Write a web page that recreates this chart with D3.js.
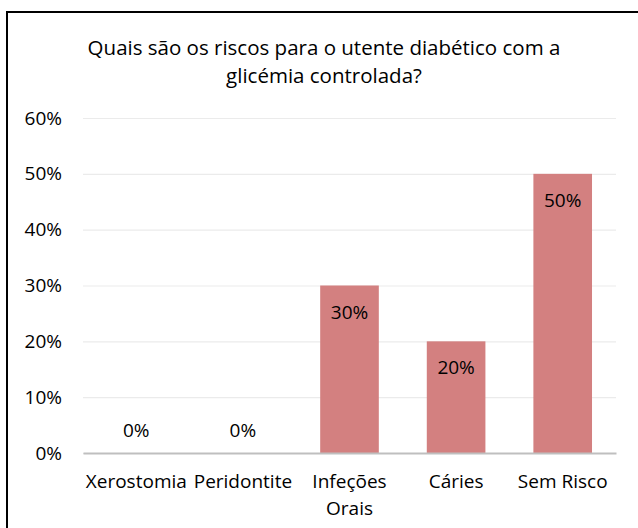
<!DOCTYPE html>
<html><head><meta charset="utf-8">
<script src="https://cdn.jsdelivr.net/npm/d3@7"></script>
<style>body{margin:0;background:#fff;}svg{display:block;font-family:"Open Sans",sans-serif;}</style>
</head><body><svg id="c" width="638" height="528"></svg>
<script>
const categories = ["Xerostomia", "Peridontite", "Infeções Orais", "Cáries", "Sem Risco"];
const values = [0, 0, 0.30, 0.20, 0.50];
const yTicks = [0, 0.1, 0.2, 0.3, 0.4, 0.5, 0.6];
const titleLines = ["Quais são os riscos para o utente diabético com a", "glicémia controlada?"];

const svg = d3.select("#c");
svg.append("rect").attr("x", 7).attr("y", 12).attr("width", 640).attr("height", 540)
  .attr("fill", "#fff").attr("stroke", "#000").attr("stroke-width", 2);

const m = {l: 83, r: 616, t: 118, b: 453};
const x = d3.scaleBand().domain(categories).range([m.l, m.r]).paddingInner(0.45).paddingOuter(0.225);
const y = d3.scaleLinear().domain([0, 0.6]).range([m.b, m.t]);
const fs = 19;

svg.append("text").attr("x", 324).attr("text-anchor", "middle").attr("font-size", 20.5).attr("fill", "#000")
  .selectAll("tspan").data(titleLines).join("tspan").attr("x", 324).attr("y", (d, i) => 55 + i * 27.5).text(d => d);

const grid = svg.append("g").attr("transform", `translate(${m.l},0)`)
  .call(d3.axisLeft(y).tickValues(yTicks).tickSize(-(m.r - m.l)).tickFormat(d3.format(".0%")));
grid.select(".domain").remove();
grid.selectAll(".tick line").attr("stroke", "#ebebeb").attr("stroke-width", 1.2);
grid.selectAll(".tick text").attr("x", -21).attr("font-size", fs).attr("fill", "#000").attr("font-family", "Open Sans");

svg.append("g").selectAll("rect").data(values).join("rect")
  .attr("x", (d, i) => x(categories[i])).attr("width", x.bandwidth())
  .attr("y", d => y(d)).attr("height", d => y(0) - y(d)).attr("fill", "#d38080");

const xa = svg.append("g").attr("transform", `translate(0,${m.b})`).call(d3.axisBottom(x).tickSize(0));
xa.select(".domain").attr("stroke", "#bfbfbf").attr("stroke-width", 2.2);
xa.selectAll(".tick text").attr("font-size", fs).attr("fill", "#000").attr("font-family", "Open Sans")
  .text(null).attr("y", 0).attr("dy", null)
  .each(function(d) {
    const words = d === "Infeções Orais" ? ["Infeções", "Orais"] : [d];
    d3.select(this).selectAll("tspan").data(words).join("tspan")
      .attr("x", 0).attr("dy", (w, i) => i === 0 ? 35 : 27).text(w => w);
  });

svg.append("g").selectAll("text").data(values).join("text")
  .attr("x", (d, i) => x(categories[i]) + x.bandwidth() / 2)
  .attr("y", d => d > 0 ? y(d) + 33 : y(d) - 16)
  .attr("text-anchor", "middle").attr("font-size", fs).attr("fill", "#000")
  .text(d => d3.format(".0%")(d));
</script></body></html>
